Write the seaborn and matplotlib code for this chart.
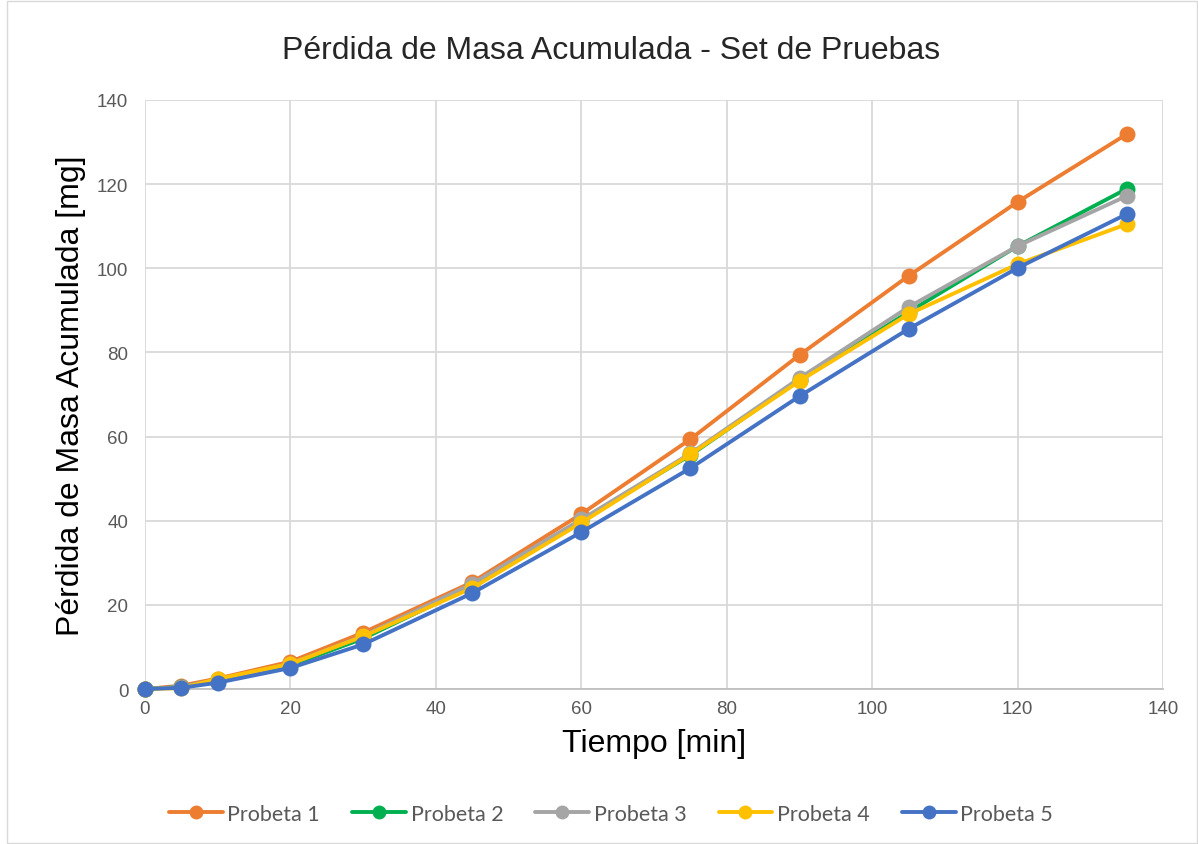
import matplotlib
matplotlib.use("Agg")
import matplotlib.pyplot as plt
import seaborn as sns
import pandas as pd
from matplotlib.patches import Rectangle

# Time of each measurement [min]
tiempo = [0, 5, 10, 20, 30, 45, 60, 75, 90, 105, 120, 135]

# Accumulated mass loss per specimen [mg]
probeta_1 = [0, 0.8, 2.5, 6.5, 13.4, 25.4, 41.6, 59.4, 79.4, 98.2, 115.8, 131.9]
probeta_2 = [0, 0.5, 2.0, 5.6, 12.0, 24.5, 40.0, 55.6, 73.5, 89.6, 105.3, 118.9]
probeta_3 = [0, 0.5, 2.2, 6.0, 12.6, 25.0, 40.3, 56.0, 73.9, 90.8, 105.3, 117.2]
probeta_4 = [0, 0.2, 2.4, 6.0, 12.5, 24.0, 39.5, 55.8, 73.2, 89.1, 101.0, 110.5]
probeta_5 = [0, 0.3, 1.5, 5.0, 10.6, 22.8, 37.3, 52.5, 69.6, 85.6, 100.1, 112.9]

series_names = ["Probeta 1", "Probeta 2", "Probeta 3", "Probeta 4", "Probeta 5"]
series_values = [probeta_1, probeta_2, probeta_3, probeta_4, probeta_5]
colores = ["#ED7D31", "#00B050", "#A5A5A5", "#FFC000", "#4472C4"]

rows = []
for name, vals in zip(series_names, series_values):
    for t, v in zip(tiempo, vals):
        rows.append({"Tiempo": t, "Masa": v, "Serie": name})
df = pd.DataFrame(rows)

sns.set_theme(style="white")
plt.rcParams["font.family"] = ["Liberation Sans", "DejaVu Sans"]

fig = plt.figure(figsize=(11.98, 8.45), dpi=100)
ax = fig.add_axes([0.121, 0.1834, 0.850, 0.6971])

sns.lineplot(
    data=df, x="Tiempo", y="Masa", hue="Serie", hue_order=series_names,
    palette=colores, marker="o", markersize=11.5, linewidth=2.8,
    markeredgewidth=0, ax=ax, legend=True, zorder=3,
)
for line in ax.get_lines():
    line.set_clip_on(False)

ax.set_xlim(0, 140)
ax.set_ylim(0, 140)
ax.set_xticks(range(0, 141, 20))
ax.set_yticks(range(0, 141, 20))
ax.grid(True, color="#D9D9D9", linewidth=1.3)
ax.set_axisbelow(True)
for side in ["top", "right", "left"]:
    ax.spines[side].set_visible(False)
ax.spines["bottom"].set_color("#BFBFBF")
ax.spines["bottom"].set_linewidth(1.3)
ax.spines["bottom"].set_zorder(2)
ax.tick_params(axis="both", length=0, labelsize=13.5, labelcolor="#595959", pad=8)
ax.tick_params(axis="y", pad=12)

ax.set_xlabel("Tiempo [min]", fontsize=23, color="black", labelpad=8)
ax.set_ylabel("Pérdida de Masa Acumulada [mg]", fontsize=23, color="black", labelpad=8)
fig.text(0.51, 0.94, "Pérdida de Masa Acumulada - Set de Pruebas",
         ha="center", va="center", fontsize=23, color="#262626")

handles, labels = ax.get_legend_handles_labels()
for h in handles:
    h.set_markersize(10)
leg = ax.legend(
    handles, labels, loc="center", ncol=5, frameon=False,
    handlelength=2.5, columnspacing=1.5, handletextpad=0.2,
    prop={"family": ["Lato", "DejaVu Sans"], "size": 15.5},
)
leg.set_bbox_to_anchor((0.51, 0.036), transform=fig.transFigure)
for txt in leg.get_texts():
    txt.set_color("#595959")

fig.patches.append(Rectangle((0.006, 0.001), 0.993, 0.997, transform=fig.transFigure,
                             fill=False, edgecolor="#D9D9D9", linewidth=1.0))

fig.savefig("out.png", dpi=100)
